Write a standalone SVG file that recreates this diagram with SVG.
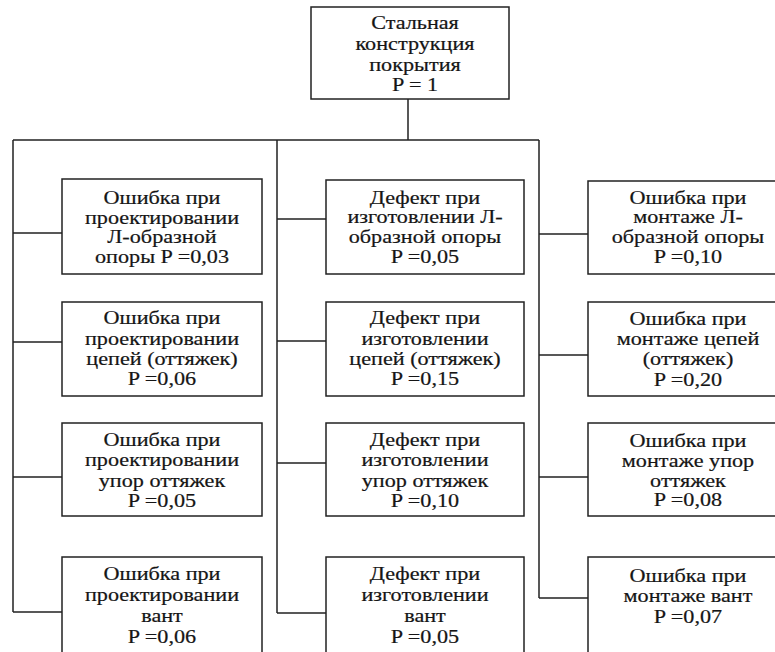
<svg xmlns="http://www.w3.org/2000/svg" width="775" height="652" viewBox="0 0 775 652">
<style>
.box{fill:#fff;stroke:#222;stroke-width:1.5}
.ln{fill:none;stroke:#222;stroke-width:1.5}
.t{font-family:"Liberation Serif","Times New Roman",serif;font-size:18.5px;fill:#151515;stroke:#151515;stroke-width:0.2;text-anchor:middle}
</style>
<rect width="775" height="652" fill="#fff"/>
<g id="connectors" class="ln">
<path d="M408 99V140M13 140H539M13 140V612M277 140V613M539 140V598"/>
<path d="M13 233H62M13 342H62M13 477H62M13 612H62"/>
<path d="M277 219H326M277 341H326M277 463H326M277 613H326"/>
<path d="M539 234H588M539 355H588M539 477H588M539 598H588"/>
</g>
<g id="root">
<rect class="box" x="311" y="7" width="198" height="92"/>
<text class="t" transform="translate(415,0) scale(1.2,1)"><tspan x="0" y="29">Стальная</tspan><tspan x="0" y="50">конструкция</tspan><tspan x="0" y="71">покрытия</tspan><tspan x="0" y="91">P = 1</tspan></text>
</g>
<g id="l1">
<rect class="box" x="62" y="179" width="200" height="95"/>
<text class="t" transform="translate(162,0) scale(1.2,1)"><tspan x="0" y="204">Ошибка при</tspan><tspan x="0" y="224">проектировании</tspan><tspan x="0" y="243">Л-образной</tspan><tspan x="0" y="263">опоры P =0,03</tspan></text>
</g>
<g id="l2">
<rect class="box" x="62" y="302" width="200" height="94"/>
<text class="t" transform="translate(162,0) scale(1.2,1)"><tspan x="0" y="324">Ошибка при</tspan><tspan x="0" y="345">проектировании</tspan><tspan x="0" y="365">цепей (оттяжек)</tspan><tspan x="0" y="385">P =0,06</tspan></text>
</g>
<g id="l3">
<rect class="box" x="62" y="423" width="200" height="93"/>
<text class="t" transform="translate(162,0) scale(1.2,1)"><tspan x="0" y="446">Ошибка при</tspan><tspan x="0" y="466">проектировании</tspan><tspan x="0" y="487">упор оттяжек</tspan><tspan x="0" y="507">P =0,05</tspan></text>
</g>
<g id="l4">
<rect class="box" x="62" y="557" width="200" height="110"/>
<text class="t" transform="translate(162,0) scale(1.2,1)"><tspan x="0" y="580">Ошибка при</tspan><tspan x="0" y="601">проектировании</tspan><tspan x="0" y="622">вант</tspan><tspan x="0" y="643">P =0,06</tspan></text>
</g>
<g id="m1">
<rect class="box" x="326" y="180" width="198" height="94"/>
<text class="t" transform="translate(425,0) scale(1.2,1)"><tspan x="0" y="204">Дефект при</tspan><tspan x="0" y="223">изготовлении Л-</tspan><tspan x="0" y="243">образной опоры</tspan><tspan x="0" y="263">P =0,05</tspan></text>
</g>
<g id="m2">
<rect class="box" x="326" y="302" width="198" height="94"/>
<text class="t" transform="translate(425,0) scale(1.2,1)"><tspan x="0" y="324">Дефект при</tspan><tspan x="0" y="345">изготовлении</tspan><tspan x="0" y="365">цепей (оттяжек)</tspan><tspan x="0" y="385">P =0,15</tspan></text>
</g>
<g id="m3">
<rect class="box" x="326" y="423" width="198" height="93"/>
<text class="t" transform="translate(425,0) scale(1.2,1)"><tspan x="0" y="446">Дефект при</tspan><tspan x="0" y="466">изготовлении</tspan><tspan x="0" y="487">упор оттяжек</tspan><tspan x="0" y="507">P =0,10</tspan></text>
</g>
<g id="m4">
<rect class="box" x="326" y="557" width="198" height="110"/>
<text class="t" transform="translate(425,0) scale(1.2,1)"><tspan x="0" y="580">Дефект при</tspan><tspan x="0" y="601">изготовлении</tspan><tspan x="0" y="622">вант</tspan><tspan x="0" y="643">P =0,05</tspan></text>
</g>
<g id="r1">
<rect class="box" x="588" y="181" width="200" height="93"/>
<text class="t" transform="translate(688,0) scale(1.2,1)"><tspan x="0" y="204">Ошибка при</tspan><tspan x="0" y="223">монтаже Л-</tspan><tspan x="0" y="243">образной опоры</tspan><tspan x="0" y="263">P =0,10</tspan></text>
</g>
<g id="r2">
<rect class="box" x="588" y="302" width="200" height="94"/>
<text class="t" transform="translate(688,0) scale(1.2,1)"><tspan x="0" y="325">Ошибка при</tspan><tspan x="0" y="345">монтаже цепей</tspan><tspan x="0" y="365">(оттяжек)</tspan><tspan x="0" y="386">P =0,20</tspan></text>
</g>
<g id="r3">
<rect class="box" x="588" y="423" width="200" height="93"/>
<text class="t" transform="translate(688,0) scale(1.2,1)"><tspan x="0" y="447">Ошибка при</tspan><tspan x="0" y="467">монтаже упор</tspan><tspan x="0" y="487">оттяжек</tspan><tspan x="0" y="506">P =0,08</tspan></text>
</g>
<g id="r4">
<rect class="box" x="588" y="557" width="200" height="110"/>
<text class="t" transform="translate(688,0) scale(1.2,1)"><tspan x="0" y="582">Ошибка при</tspan><tspan x="0" y="602">монтаже вант</tspan><tspan x="0" y="623">P =0,07</tspan></text>
</g>
</svg>
